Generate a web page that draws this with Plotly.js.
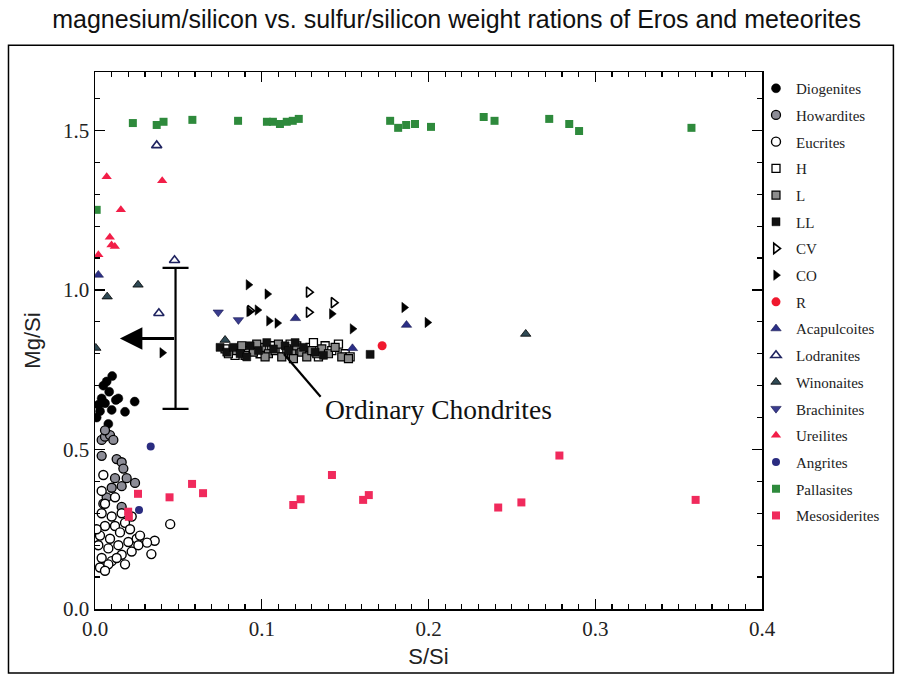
<!DOCTYPE html>
<html>
<head>
<meta charset="utf-8">
<script src="https://cdn.plot.ly/plotly-3.0.1.min.js"></script>
<style>html,body{margin:0;padding:0;background:#fff;}#chart{width:897px;height:675px;}</style>
</head>
<body>
<div id="chart"></div>
<script>
// ---- data (S/Si, Mg/Si) ----
const diogS  = [0.0103,0.007,0.0085,0.004,0.0125,0.0238,0.010,0.018,0.003,0.008,0.002,0.005,0.014,0.001,0.006];
const diogMg = [0.730,0.713,0.681,0.660,0.655,0.650,0.624,0.618,0.620,0.580,0.640,0.700,0.660,0.600,0.645];

const howS  = [0.004,0.006,0.009,0.011,0.006,0.013,0.016,0.017,0.012,0.016,0.024,0.004,0.005,0.016,0.007,0.019,0.010];
const howMg = [0.530,0.540,0.545,0.530,0.560,0.470,0.460,0.440,0.410,0.385,0.395,0.480,0.330,0.320,0.350,0.410,0.380];

const eucS  = [0.005,0.004,0.006,0.012,0.004,0.010,0.016,0.006,0.012,0.018,0.003,0.009,0.015,0.021,0.002,0.008,0.014,0.020,0.025,0.027,0.004,0.010,0.016,0.022,0.003,0.008,0.013,0.006,0.0451,0.0358,0.0312,0.0338,0.026,0.022,0.001,0.018];
const eucMg = [0.420,0.370,0.330,0.350,0.300,0.290,0.300,0.260,0.260,0.270,0.230,0.220,0.240,0.250,0.200,0.190,0.200,0.210,0.220,0.230,0.160,0.150,0.170,0.180,0.130,0.140,0.160,0.120,0.266,0.214,0.208,0.172,0.200,0.290,0.250,0.140];

const hS  = [0.078,0.084,0.092,0.099,0.106,0.113,0.117,0.123,0.129,0.134,0.138,0.142,0.146,0.150,0.153,0.131,0.111,0.095];
const hMg = [0.815,0.795,0.810,0.800,0.825,0.800,0.830,0.810,0.820,0.790,0.825,0.810,0.830,0.800,0.790,0.835,0.815,0.820];

const lS  = [0.080,0.085,0.090,0.095,0.100,0.104,0.108,0.112,0.115,0.118,0.121,0.124,0.127,0.130,0.133,0.136,0.140,0.144,0.148,0.152,0.097,0.110,0.088,0.102,0.119];
const lMg = [0.800,0.810,0.795,0.805,0.820,0.800,0.810,0.790,0.815,0.800,0.825,0.805,0.790,0.810,0.800,0.815,0.800,0.820,0.790,0.785,0.830,0.830,0.825,0.790,0.785];

const llS  = [0.075,0.079,0.083,0.087,0.093,0.098,0.103,0.107,0.114,0.120,0.125,0.132,0.137,0.165,0.091,0.116];
const llMg = [0.820,0.805,0.820,0.800,0.825,0.810,0.835,0.815,0.825,0.835,0.820,0.805,0.795,0.798,0.790,0.810];

const cvS  = [0.1282,0.1431,0.1282,0.093];
const cvMg = [0.993,0.960,0.930,0.935];

const coS  = [0.092,0.1033,0.0924,0.0974,0.1043,0.1093,0.142,0.1544,0.1854,0.1993,0.0403];
const coMg = [1.016,0.987,0.932,0.937,0.903,0.896,0.925,0.878,0.945,0.898,0.803];

const rS  = [0.1722];
const rMg = [0.825];

const acaS  = [0.002,0.1202,0.1544,0.1868];
const acaMg = [1.047,0.911,0.817,0.890];

const lodS  = [0.037,0.0477,0.0383];
const lodMg = [1.453,1.093,0.927];

const winS  = [0.0258,0.0073,0.2583,0.078,0.0005];
const winMg = [1.016,0.979,0.862,0.843,0.818];

const braS  = [0.0739,0.086];
const braMg = [0.930,0.906];

const ureS  = [0.007,0.0403,0.0155,0.0089,0.0099,0.0119,0.002];
const ureMg = [1.355,1.342,1.251,1.165,1.141,1.136,1.110];

const angS  = [0.0334,0.0264];
const angMg = [0.509,0.310];

const palS  = [0.0227,0.037,0.0411,0.0584,0.0858,0.1031,0.1067,0.1109,0.1150,0.1186,0.1222,0.1770,0.1818,0.1866,0.1919,0.2015,0.2331,0.2396,0.2724,0.2844,0.2903,0.3577,0.001];
const palMg = [1.523,1.517,1.527,1.533,1.530,1.527,1.527,1.520,1.527,1.530,1.536,1.530,1.508,1.517,1.520,1.511,1.542,1.530,1.536,1.520,1.498,1.508,1.251];

const mesS  = [0.0199,0.0203,0.0258,0.0447,0.0582,0.0648,0.1189,0.1233,0.1421,0.1608,0.1642,0.2418,0.2557,0.2785,0.3602];
const mesMg = [0.305,0.289,0.361,0.350,0.392,0.363,0.326,0.344,0.420,0.342,0.357,0.318,0.334,0.481,0.342];

// Eros estimate (error bar) and arrow target
const erosS = [0.0483];
const erosMg = [0.848];
const erosErr = [0.221];
const arrowTipS = 0.0149;

// Ordinary chondrites pointer
const ocLineS = [0.1133, 0.1353];
const ocLineMg = [0.799, 0.665];
const ocLabel = {s: 0.2057, mg: 0.624, text: 'Ordinary Chondrites'};

const xTicks = [0.0, 0.1, 0.2, 0.3, 0.4];
const yTicks = [0.0, 0.5, 1.0, 1.5];

const BLK = '#000000';
function tr(name, x, y, symbol, color, size, lineColor, lineWidth) {
  return {
    type: 'scatter', mode: 'markers', name: name, x: x, y: y,
    legendgroup: name,
    marker: {symbol: symbol, color: color, size: size,
             line: {color: lineColor, width: lineWidth}},
    cliponaxis: true, hoverinfo: 'skip'
  };
}

const traces = [
  tr('Diogenites', diogS, diogMg, 'circle', '#000000', 9, BLK, 0.5),
  tr('Howardites', howS, howMg, 'circle', '#8c8c96', 9, BLK, 1.3),
  tr('Eucrites', eucS, eucMg, 'circle', '#ffffff', 9, BLK, 1.4),
  tr('H', hS, hMg, 'square', '#ffffff', 8, BLK, 1.3),
  tr('L', lS, lMg, 'square', '#8c8c8c', 8, BLK, 1.2),
  tr('LL', llS, llMg, 'square', '#111111', 8, BLK, 0.5),
  tr('CV', cvS, cvMg, 'triangle-right', '#ffffff', 9, BLK, 1.6),
  tr('CO', coS, coMg, 'triangle-right', '#000000', 9, BLK, 0.5),
  tr('R', rS, rMg, 'circle', '#f0182e', 9, '#f0182e', 0),
  tr('Acapulcoites', acaS, acaMg, 'triangle-up', '#2b2f86', 9, '#1a1a50', 0.6),
  tr('Lodranites', lodS, lodMg, 'triangle-up', '#ffffff', 9, '#1f2360', 1.6),
  tr('Winonaites', winS, winMg, 'triangle-up', '#2f4a55', 9, BLK, 0.8),
  tr('Brachinites', braS, braMg, 'triangle-down', '#3a3c8e', 9, '#1a1a50', 0.6),
  tr('Ureilites', ureS, ureMg, 'triangle-up', '#f21e48', 9, '#f21e48', 0),
  tr('Angrites', angS, angMg, 'circle', '#2a2c80', 8, '#2a2c80', 0),
  tr('Pallasites', palS, palMg, 'square', '#2e8a3c', 8, '#2e8a3c', 0),
  tr('Mesosiderites', mesS, mesMg, 'square', '#f02a5c', 8, '#f02a5c', 0)
];

traces.push({
  type: 'scatter', mode: 'markers', x: erosS, y: erosMg, showlegend: false,
  marker: {size: 1, color: 'rgba(0,0,0,0)'}, hoverinfo: 'skip',
  error_y: {type: 'data', array: erosErr, visible: true, color: BLK, thickness: 2.2, width: 13}
});
traces.push({
  type: 'scatter', mode: 'lines', x: ocLineS, y: ocLineMg, showlegend: false,
  line: {color: BLK, width: 2.2}, hoverinfo: 'skip'
});

const serif = 'Liberation Serif, Times New Roman, serif';
const sans = 'Liberation Sans, Arial, sans-serif';

const axisCommon = {
  showgrid: false, zeroline: false, showline: true, linecolor: BLK, linewidth: 1.5,
  mirror: 'ticks', ticks: 'inside', ticklen: 10, tickwidth: 1.3, tickcolor: BLK,
  tickfont: {family: serif, size: 21, color: '#222'},
};

const layout = {
  width: 897, height: 675,
  margin: {l: 95, r: 131, t: 72, b: 66, pad: 0},
  paper_bgcolor: '#ffffff', plot_bgcolor: '#ffffff',
  title: {text: 'magnesium/silicon vs. sulfur/silicon weight rations of Eros and meteorites',
          font: {family: sans, size: 25, color: '#111'},
          x: 0.509, xanchor: 'center', y: 0.972, yanchor: 'middle'},
  xaxis: Object.assign({}, axisCommon, {
    range: [0, 0.4], tickvals: xTicks, ticktext: xTicks.map(v => v.toFixed(1)),
    minor: {dtick: 0.01, ticks: 'inside', ticklen: 5, tickwidth: 1.2, tickcolor: BLK},
    title: {text: 'S/Si', font: {family: sans, size: 22, color: '#222'}, standoff: 9}
  }),
  yaxis: Object.assign({}, axisCommon, {
    range: [0, 1.683], tickvals: yTicks, ticktext: yTicks.map(v => v.toFixed(1)),
    minor: {dtick: 0.1, ticks: 'inside', ticklen: 5, tickwidth: 1.2, tickcolor: BLK},
    title: {text: 'Mg/Si', font: {family: sans, size: 22, color: '#222'}, standoff: 16}
  }),
  legend: {
    x: 0.991, xanchor: 'left',
    y: 1.0, yanchor: 'top',
    bgcolor: 'rgba(0,0,0,0)', borderwidth: 0,
    font: {family: serif, size: 15, color: '#222'},
    tracegroupgap: 4.2, itemclick: false
  },
  showlegend: true,
  annotations: [
    {x: arrowTipS, y: erosMg[0], ax: erosS[0], ay: erosMg[0], xref: 'x', yref: 'y', axref: 'x', ayref: 'y',
     showarrow: true, arrowhead: 2, arrowsize: 1.5, arrowwidth: 3, arrowcolor: BLK, text: ''},
    {x: ocLabel.s, y: ocLabel.mg, xref: 'x', yref: 'y', text: ocLabel.text, showarrow: false,
     font: {family: serif, size: 27.5, color: '#111'}}
  ],
  shapes: [
    {type: 'rect', xref: 'paper', yref: 'paper', x0: -0.1297, x1: 1.197, y0: -0.119, y1: 1.05,
     line: {color: BLK, width: 1.5}, fillcolor: 'rgba(0,0,0,0)', layer: 'below'}
  ]
};

Plotly.newPlot('chart', traces, layout, {staticPlot: true, displayModeBar: false});
</script>
</body>
</html>
